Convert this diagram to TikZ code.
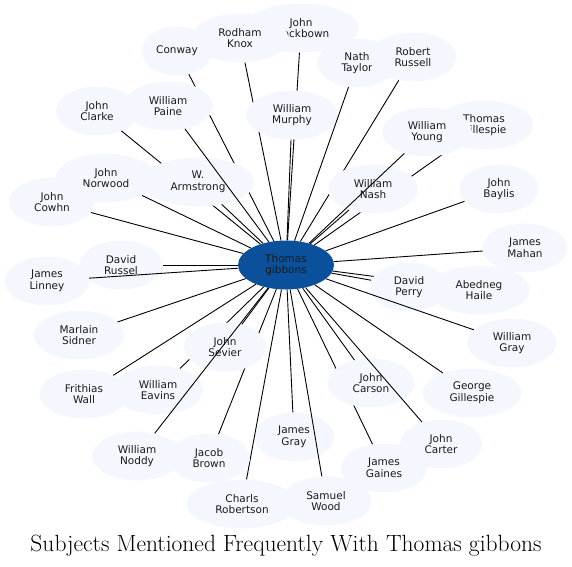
\documentclass[tikz,border=0pt]{standalone}
\usepackage{fontspec}
\usepackage{tikz}
\usetikzlibrary{shapes.geometric}
\newfontfamily\labelfont{DejaVu Sans}
\definecolor{hubblue}{HTML}{0A509B}
\definecolor{subjlight}{HTML}{F4F8FE}
\definecolor{labelgray}{HTML}{1A1A1A}

\begin{document}
\begin{tikzpicture}[
    x=1pt, y=-1pt,
    subject/.style={ellipse, fill=subjlight, inner xsep=12.5pt, inner ysep=6pt, minimum height=49pt, align=center, text=labelgray, font=\labelfont\fontsize{10.5}{11.7}\selectfont},
    hub/.style={subject, fill=hubblue, minimum width=96pt, minimum height=49pt},
    link/.style={line width=0.9pt, black},
]
    \useasboundingbox (0,0) rectangle (572,566);

    % Center node
    \node[hub] (gibbons) at (286,265) {Thomas\\gibbons};

    % Top left
    \node[subject] (blackbown) at (301,28) {John\\Blackbown};
    \draw[link] (gibbons) -- (blackbown);
    \node[subject] (knox) at (240,38) {Rodham\\Knox};
    \draw[link] (gibbons) -- (knox);
    \node[subject, inner xsep=4pt] (conway) at (177,51) {Conway};
    \draw[link] (gibbons) -- (conway);
    \node[subject] (clarke) at (97,111) {John\\Clarke};
    \draw[link] (gibbons) -- (clarke);
    \node[subject] (armstrong) at (198,182) {W.\\Armstrong};
    \draw[link] (gibbons) -- (armstrong);
    \node[subject] (paine) at (168,106) {William\\Paine};
    \draw[link] (gibbons) -- (paine);
    \node[subject] (norwood) at (106,178) {John\\Norwood};
    \draw[link] (gibbons) -- (norwood);
    \node[subject] (cowhn) at (52,202) {John\\Cowhn};
    \draw[link] (gibbons) -- (cowhn);
    \node[subject] (murphy) at (292,115) {William\\Murphy};
    \draw[link] (gibbons) -- (murphy);

    % Top right
    \node[subject] (taylor) at (357,63) {Nath\\Taylor};
    \draw[link] (gibbons) -- (taylor);
    \node[subject] (russell) at (413,57) {Robert\\Russell};
    \draw[link] (gibbons) -- (russell);
    \node[subject] (tgillespie) at (484,125) {Thomas\\Gillespie};
    \draw[link] (gibbons) -- (tgillespie);
    \node[subject] (nash) at (373,189) {William\\Nash};
    \draw[link] (gibbons) -- (nash);
    \node[subject] (young) at (427,132) {William\\Young};
    \draw[link] (gibbons) -- (young);
    \node[subject] (baylis) at (499,189) {John\\Baylis};
    \draw[link] (gibbons) -- (baylis);
    \node[subject] (mahan) at (525,248) {James\\Mahan};
    \draw[link] (gibbons) -- (mahan);

    % Bottom right
    \node[subject] (haile) at (479,290) {Abedneg\\Haile};
    \draw[link] (gibbons) -- (haile);
    \node[subject] (perry) at (409,287) {David\\Perry};
    \draw[link] (gibbons) -- (perry);
    \node[subject] (wgray) at (512,343) {William\\Gray};
    \draw[link] (gibbons) -- (wgray);
    \node[subject] (ggillespie) at (472,393) {George\\Gillespie};
    \draw[link] (gibbons) -- (ggillespie);
    \node[subject] (gaines) at (384,468) {James\\Gaines};
    \draw[link] (gibbons) -- (gaines);
    \node[subject] (carson) at (371,383) {John\\Carson};
    \draw[link] (gibbons) -- (carson);
    \node[subject] (carter) at (441,444) {John\\Carter};
    \draw[link] (gibbons) -- (carter);
    \node[subject] (jgray) at (294,437) {James\\Gray};
    \draw[link] (gibbons) -- (jgray);
    \node[subject] (wood) at (326,501) {Samuel\\Wood};
    \draw[link] (gibbons) -- (wood);

    % Bottom left
    \node[subject] (robertson) at (242,504) {Charls\\Robertson};
    \draw[link] (gibbons) -- (robertson);
    \node[subject] (brown) at (209,458) {Jacob\\Brown};
    \draw[link] (gibbons) -- (brown);
    \node[subject] (eavins) at (158,390) {William\\Eavins};
    \draw[link] (gibbons) -- (eavins);
    \node[subject] (sevier) at (225,347) {John\\Sevier};
    \draw[link] (gibbons) -- (sevier);
    \node[subject] (noddy) at (137,456) {William\\Noddy};
    \draw[link] (gibbons) -- (noddy);
    \node[subject] (wall) at (84,394) {Frithias\\Wall};
    \draw[link] (gibbons) -- (wall);
    \node[subject] (sidner) at (79,335) {Marlain\\Sidner};
    \draw[link] (gibbons) -- (sidner);
    \node[subject] (russel) at (121,265) {David\\Russel};
    \draw[link] (gibbons) -- (russel);
    \node[subject] (linney) at (47,281) {James\\Linney};
    \draw[link] (gibbons) -- (linney);

    % Title
    \node[anchor=base, font=\fontsize{23.5}{26}\selectfont] (title) at (286,551) {Subjects Mentioned Frequently With Thomas gibbons};

\end{tikzpicture}
\end{document}
